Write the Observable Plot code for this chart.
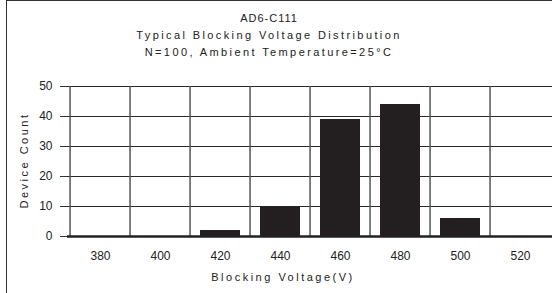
<!DOCTYPE html>
<html><head><meta charset="utf-8">
<script src="https://cdn.jsdelivr.net/npm/d3@7"></script>
<script src="https://cdn.jsdelivr.net/npm/@observablehq/plot@0.6"></script>
<style>
body{margin:0;background:#fff;font-family:"Liberation Sans",Arial,sans-serif;}
#wrap{position:relative;width:552px;height:293px;overflow:hidden;}
#frame{position:absolute;left:6px;top:0;width:600px;height:400px;border-left:1px solid #333;border-top:1px solid #333;pointer-events:none;}
#titles{position:absolute;left:0;top:10px;width:538px;text-align:center;font-size:11px;line-height:17px;color:#222;}
#titles div:nth-child(1){letter-spacing:1px;}
#titles div:nth-child(n+2){letter-spacing:2.4px;}
svg{position:absolute;left:0;top:0;}
</style></head><body><div id="wrap"><div id="titles"></div><div id="frame"></div></div>
<script>
const voltages = ["380","400","420","440","460","480","500","520"];
const counts = [0, 0, 2, 10, 39, 44, 6, 0];
const yTicks = [0, 10, 20, 30, 40, 50];
const yGrid = [10, 20, 30, 40, 50];
const titleLines = ["AD6-C111", "Typical Blocking Voltage Distribution", "N=100, Ambient Temperature=25°C"];
const xLabel = "Blocking Voltage(V)";
const yLabel = "Device Count";

const data = voltages.map((v, i) => ({v, c: counts[i]}));
const xRange = [67, 554];
const step = (xRange[1] - xRange[0]) / voltages.length;

const tdiv = document.getElementById("titles");
titleLines.forEach(s => { const d = document.createElement("div"); d.textContent = s; tdiv.appendChild(d); });

const chart = Plot.plot({
  width: 552,
  height: 293,
  marginLeft: 67,
  marginRight: 0,
  marginTop: 86,
  marginBottom: 57,
  style: {fontFamily: "'Liberation Sans', Arial, sans-serif", fontSize: "12px", color: "#222", background: "transparent"},
  x: {type: "band", domain: voltages, range: xRange, paddingInner: 0.33, paddingOuter: 0.165, align: 0.5},
  y: {domain: [0, 50], ticks: yTicks},
  marks: [
    Plot.ruleY(yGrid, {stroke: "#2a2a2a", strokeWidth: 1.2}),
    Plot.ruleX(voltages, {x: d => d, dx: -step / 2, y1: 0, y2: 50, stroke: "#555", strokeWidth: 1.5}),
    Plot.barY(data, {x: "v", y: "c", fill: "#231f20"}),
    Plot.ruleY([0], {stroke: "#222", strokeWidth: 2.5}),
    Plot.axisY({ticks: yTicks, tickSize: 7, tickPadding: 8, label: null, stroke: "#333", fill: "#222"}),
    Plot.axisX({tickSize: 0, tickPadding: 15, label: null, fill: "#222"}),
    Plot.text([yLabel], {frameAnchor: "left", textAnchor: "middle", lineAnchor: "middle", rotate: -90, dx: -43, dy: -1, fontSize: 11, fill: "#222"}),
    Plot.text([xLabel], {frameAnchor: "bottom", dy: 41, dx: -27, lineAnchor: "middle", fontSize: 11, fill: "#222"})
  ]
});
chart.querySelectorAll("text").forEach(t => {
  if (t.textContent === xLabel || t.textContent === yLabel) {
    t.setAttribute("letter-spacing", "2.5");
    t.style.letterSpacing = "2.5px";
  }
});
document.getElementById("wrap").insertBefore(chart, document.getElementById("titles"));
</script>
</body></html>
